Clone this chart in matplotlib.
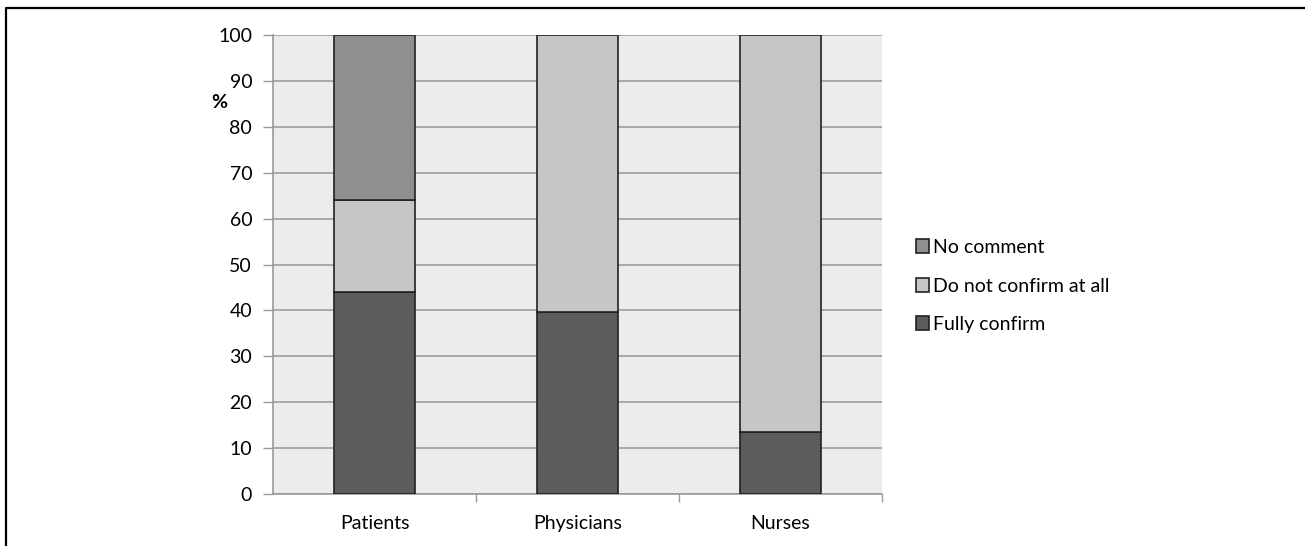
import numpy as np
import matplotlib
matplotlib.use("Agg")
import matplotlib.pyplot as plt
from matplotlib.lines import Line2D

groups = ["Patients", "Physicians", "Nurses"]
fully_confirm = [44.0, 39.6, 13.6]
do_not_confirm = [20.0, 60.4, 86.4]
no_comment = [36.0, 0.0, 0.0]
yticks = [0, 10, 20, 30, 40, 50, 60, 70, 80, 90, 100]

plt.rcParams['font.family'] = ['Lato', 'DejaVu Sans']

fig = plt.figure(figsize=(13.05, 5.46), dpi=100)
ax = fig.add_axes([273 / 1305, 52 / 546, 609 / 1305, 459 / 546])
ax.set_facecolor('#ececec')

x = np.arange(len(groups))
w = 0.40
edge = dict(edgecolor='#222222', linewidth=1.2, zorder=3)
b1 = ax.bar(x, fully_confirm, w, color='#5b5c5e', label='Fully confirm', **edge)
bottom2 = np.array(fully_confirm)
b2 = ax.bar(x, do_not_confirm, w, bottom=bottom2, color='#c5c6c8',
            label='Do not confirm at all', **edge)
bottom3 = bottom2 + np.array(do_not_confirm)
nc = np.array(no_comment)
b3 = ax.bar(x[nc > 0], nc[nc > 0], w, bottom=bottom3[nc > 0], color='#8e8f91',
            label='No comment', **edge)

ax.set_xlim(-0.5, 2.5)
ax.set_ylim(0, 100)
ax.set_yticks(yticks)
ax.set_xticks(x)
ax.set_xticklabels(groups)
ax.set_xticks([0.5, 1.5, 2.5], minor=True)
ax.tick_params(axis='x', which='major', length=0, pad=15, labelsize=14)
ax.tick_params(axis='x', which='minor', length=6, color='#999999', width=1)
ax.tick_params(axis='y', length=7, color='#999999', width=1, labelsize=14, pad=8)
ax.grid(axis='y', color='#a3a3a3', linewidth=1.3, zorder=1)
ax.set_axisbelow(True)
for s in ['top', 'right']:
    ax.spines[s].set_visible(False)
for s in ['left', 'bottom']:
    ax.spines[s].set_color('#999999')
    ax.spines[s].set_linewidth(1.2)

fig.text(219 / 1305, 1 - 102 / 546, '%', fontsize=14, fontweight='bold',
         ha='center', va='center')

ax.legend(handles=[b3, b2, b1], loc='center left',
          bbox_to_anchor=(906 / 1305, 1 - 286 / 546), bbox_transform=fig.transFigure,
          frameon=False, fontsize=14, handlelength=0.7, handleheight=0.7,
          handletextpad=0.2, labelspacing=1.1, borderpad=0)

# thin frame along the top and left of the figure
fig.add_artist(Line2D([6 / 1305, 6 / 1305, 1], [0, 1 - 8 / 546, 1 - 8 / 546],
                      transform=fig.transFigure, color='black', linewidth=1.6))

fig.savefig('out.png', dpi=100)
